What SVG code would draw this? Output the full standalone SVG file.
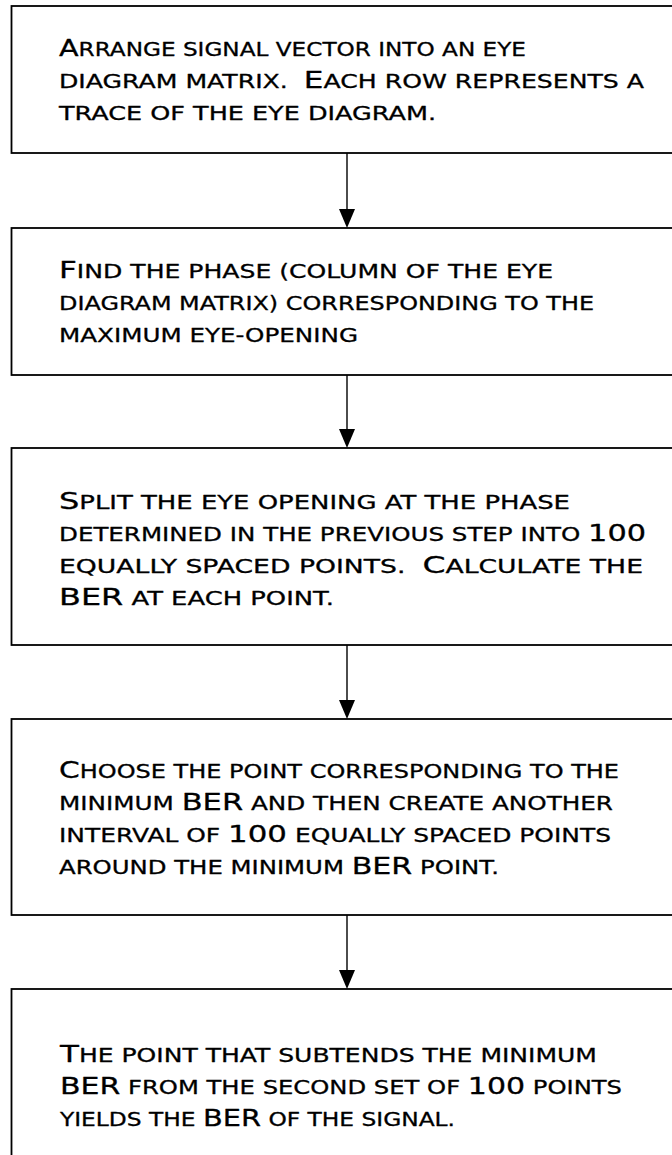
<svg xmlns="http://www.w3.org/2000/svg" width="672" height="1155" viewBox="0 0 672 1155">
<style>
.box{fill:#fff;stroke:#000;stroke-width:1.8}
.conn line{stroke:#000;stroke-width:1.4}
.conn polygon{fill:#000}
text{font-family:"DejaVu Sans","Liberation Sans",sans-serif;font-size:19px;fill:#000;stroke:#000;stroke-width:0.3;stroke-linejoin:round}
.c{font-size:23.5px}
</style>
<rect width="672" height="1155" fill="#fff"/>
<g id="node1">
<rect class="box" x="11.5" y="6" width="700" height="147"/>
<text x="59" y="56" textLength="467" lengthAdjust="spacingAndGlyphs"><tspan class="c">A</tspan>RRANGE SIGNAL VECTOR INTO AN EYE</text>
<text x="59" y="88" textLength="585" lengthAdjust="spacingAndGlyphs">DIAGRAM MATRIX.&#160; <tspan class="c">E</tspan>ACH ROW REPRESENTS A</text>
<text x="59" y="120" textLength="377" lengthAdjust="spacingAndGlyphs">TRACE OF THE EYE DIAGRAM.</text>
</g>
<g id="node2">
<rect class="box" x="11.5" y="228" width="700" height="147"/>
<text x="59" y="278" textLength="494" lengthAdjust="spacingAndGlyphs"><tspan class="c">F</tspan>IND THE PHASE (COLUMN OF THE EYE</text>
<text x="59" y="310" textLength="535" lengthAdjust="spacingAndGlyphs">DIAGRAM MATRIX) CORRESPONDING TO THE</text>
<text x="59" y="342" textLength="299" lengthAdjust="spacingAndGlyphs">MAXIMUM EYE-OPENING</text>
</g>
<g id="node3">
<rect class="box" x="11.5" y="448" width="700" height="197"/>
<text x="59" y="509" textLength="511" lengthAdjust="spacingAndGlyphs"><tspan class="c">S</tspan>PLIT THE EYE OPENING AT THE PHASE</text>
<text x="59" y="541" textLength="587" lengthAdjust="spacingAndGlyphs">DETERMINED IN THE PREVIOUS STEP INTO <tspan class="c">100</tspan></text>
<text x="59" y="573" textLength="584" lengthAdjust="spacingAndGlyphs">EQUALLY SPACED POINTS.&#160; <tspan class="c">C</tspan>ALCULATE THE</text>
<text x="59" y="605" textLength="275" lengthAdjust="spacingAndGlyphs"><tspan class="c">BER</tspan> AT EACH POINT.</text>
</g>
<g id="node4">
<rect class="box" x="11.5" y="719" width="700" height="196"/>
<text x="59" y="778" textLength="560" lengthAdjust="spacingAndGlyphs"><tspan class="c">C</tspan>HOOSE THE POINT CORRESPONDING TO THE</text>
<text x="59" y="810" textLength="554" lengthAdjust="spacingAndGlyphs">MINIMUM <tspan class="c">BER</tspan> AND THEN CREATE ANOTHER</text>
<text x="59" y="842" textLength="552" lengthAdjust="spacingAndGlyphs">INTERVAL OF <tspan class="c">100</tspan> EQUALLY SPACED POINTS</text>
<text x="59" y="874" textLength="440" lengthAdjust="spacingAndGlyphs">AROUND THE MINIMUM <tspan class="c">BER</tspan> POINT.</text>
</g>
<g id="node5">
<rect class="box" x="11.5" y="989" width="700" height="200"/>
<text x="60" y="1062" textLength="537" lengthAdjust="spacingAndGlyphs"><tspan class="c">T</tspan>HE POINT THAT SUBTENDS THE MINIMUM</text>
<text x="60" y="1094" textLength="562" lengthAdjust="spacingAndGlyphs"><tspan class="c">BER</tspan> FROM THE SECOND SET OF <tspan class="c">100</tspan> POINTS</text>
<text x="60" y="1126" textLength="395" lengthAdjust="spacingAndGlyphs">YIELDS THE <tspan class="c">BER</tspan> OF THE SIGNAL.</text>
</g>
<g id="connectors" class="conn">
<line x1="347" y1="153" x2="347" y2="210"/>
<polygon points="339,209 355,209 347,228"/>
<line x1="347" y1="375" x2="347" y2="430"/>
<polygon points="339,429 355,429 347,448"/>
<line x1="347" y1="645" x2="347" y2="701"/>
<polygon points="339,700 355,700 347,719"/>
<line x1="347" y1="915" x2="347" y2="971"/>
<polygon points="339,970 355,970 347,989"/>
</g>
</svg>
